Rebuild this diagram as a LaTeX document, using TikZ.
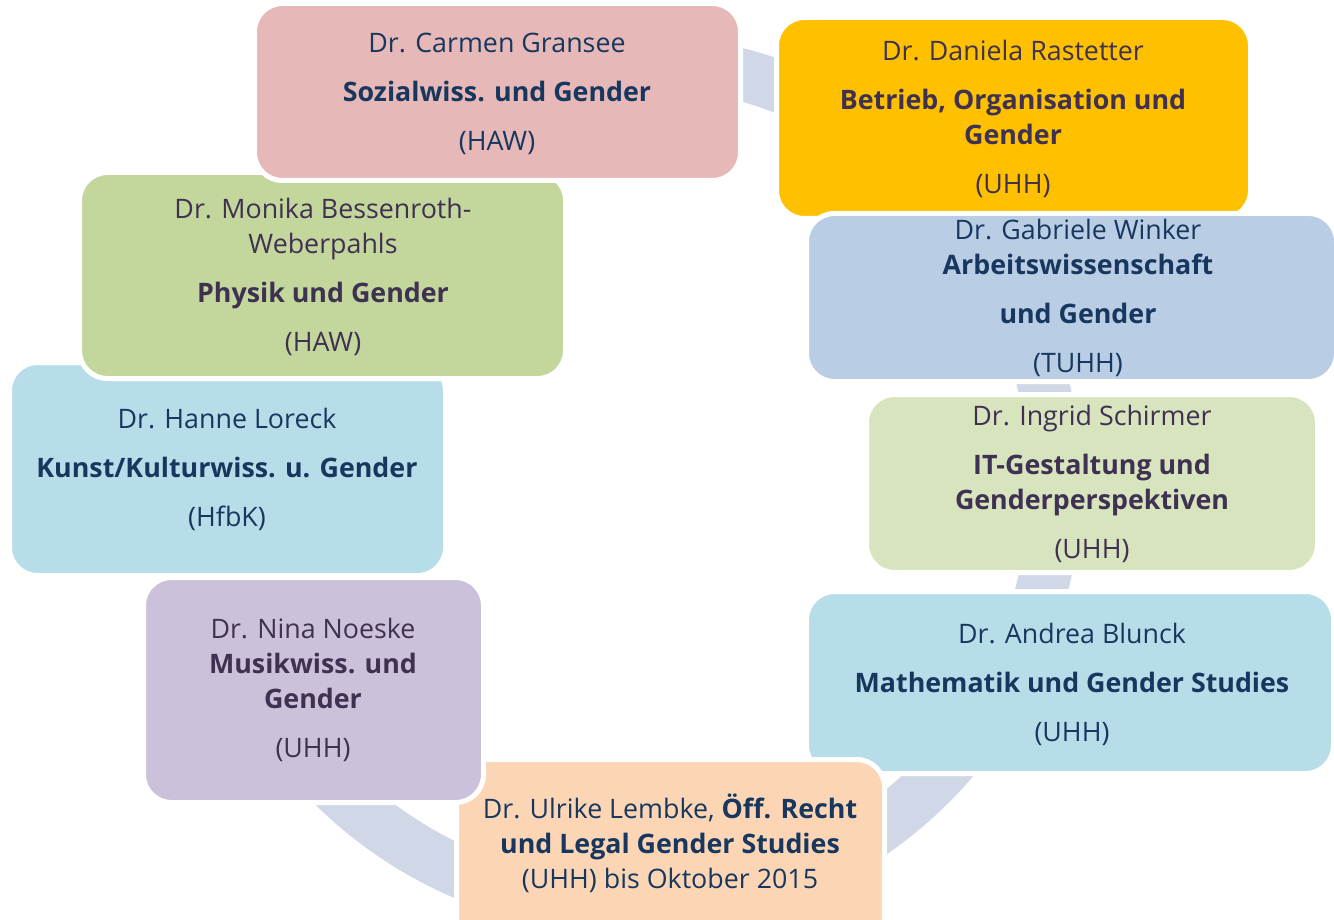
\documentclass[tikz,border=0pt]{standalone}
\usepackage{fontspec}
\setmainfont{Open Sans}
\definecolor{ringc}{HTML}{D0D8E8}
\definecolor{navy}{HTML}{17375E}
\definecolor{plum}{HTML}{3F3151}
\definecolor{cpink}{HTML}{E6B8B7}
\definecolor{cgold}{HTML}{FFC000}
\definecolor{cblue}{HTML}{B9CDE5}
\definecolor{cpale}{HTML}{D7E4BD}
\definecolor{ccyan}{HTML}{B7DEE8}
\definecolor{cpeach}{HTML}{FCD5B5}
\definecolor{clav}{HTML}{CCC1DA}
\definecolor{cgreen}{HTML}{C3D69B}
\tikzset{
  card/.style 2 args={draw=white, line width=5pt, fill=#1, rounded corners=28pt,
    rectangle, inner sep=0pt, minimum width=#2},
  label/.style={align=center, inner sep=0pt, font=\fontsize{26.8}{35}\selectfont}
}
\newcommand{\gap}{\\[14pt]}
\begin{document}
\begin{tikzpicture}[x=1pt, y=-1pt]
\useasboundingbox (0,0) rectangle (1334,920);
\clip (0,0) rectangle (1334,920);
% ring behind the cards
\draw[ringc, line width=52pt] (631,484) circle[radius=424pt];
% cards, drawn in stacking order
\node[card={ccyan}{436pt}, minimum height=213pt] (hanne) at (227.5,469) {};
\node[card={cgreen}{486pt}, minimum height=206pt] (monika) at (322.5,275.5) {};
\node[card={cpink}{486pt}, minimum height=177pt] (carmen) at (497.5,92) {};
\node[card={cgold}{474pt}, minimum height=201pt] (daniela) at (1013.5,118) {};
\node[card={cblue}{530pt}, minimum height=168pt] (gabriele) at (1071.5,297.5) {};
\node[card={cpale}{451pt}, minimum height=178pt] (ingrid) at (1092,483.5) {};
\node[card={ccyan}{527pt}, minimum height=182pt] (andrea) at (1070,682.5) {};
\node[card={cpeach}{428pt}, minimum height=188pt] (ulrike) at (670.5,853.5) {};
\node[card={clav}{340pt}, minimum height=225pt] (nina) at (313.5,690) {};
% texts
\node[label, text=navy] (tcarmen) at (497,94)
  {Dr. Carmen Gransee\gap\textbf{Sozialwiss. und Gender}\gap(HAW)};
\node[label, text=plum] (tdaniela) at (1013,119)
  {Dr. Daniela Rastetter\gap\textbf{Betrieb, Organisation und}\\\textbf{Gender}\gap(UHH)};
\node[label, text=navy] (tgabriele) at (1078,298)
  {Dr. Gabriele Winker\\\textbf{Arbeitswissenschaft}\gap\textbf{und Gender}\gap(TUHH)};
\node[label, text=plum] (tingrid) at (1092,484)
  {Dr. Ingrid Schirmer\gap\textbf{IT-Gestaltung und}\\\textbf{Genderperspektiven}\gap(UHH)};
\node[label, text=navy] (tandrea) at (1072,684)
  {Dr. Andrea Blunck\gap\textbf{Mathematik und Gender Studies}\gap(UHH)};
\node[label, text=navy] (tulrike) at (670,843)
  {Dr. Ulrike Lembke, \textbf{Öff. Recht}\\\textbf{und Legal Gender Studies}\\(UHH) bis Oktober 2015};
\node[label, text=plum] (tnina) at (313,690)
  {Dr. Nina Noeske\\\textbf{Musikwiss. und}\\\textbf{Gender}\gap(UHH)};
\node[label, text=navy] (thanne) at (227,469)
  {Dr. Hanne Loreck\gap\textbf{Kunst/Kulturwiss. u. Gender}\gap(HfbK)};
\node[label, text=plum] (tmonika) at (323,277)
  {Dr. Monika Bessenroth-\\Weberpahls\gap\textbf{Physik und Gender}\gap(HAW)};
\end{tikzpicture}
\end{document}
